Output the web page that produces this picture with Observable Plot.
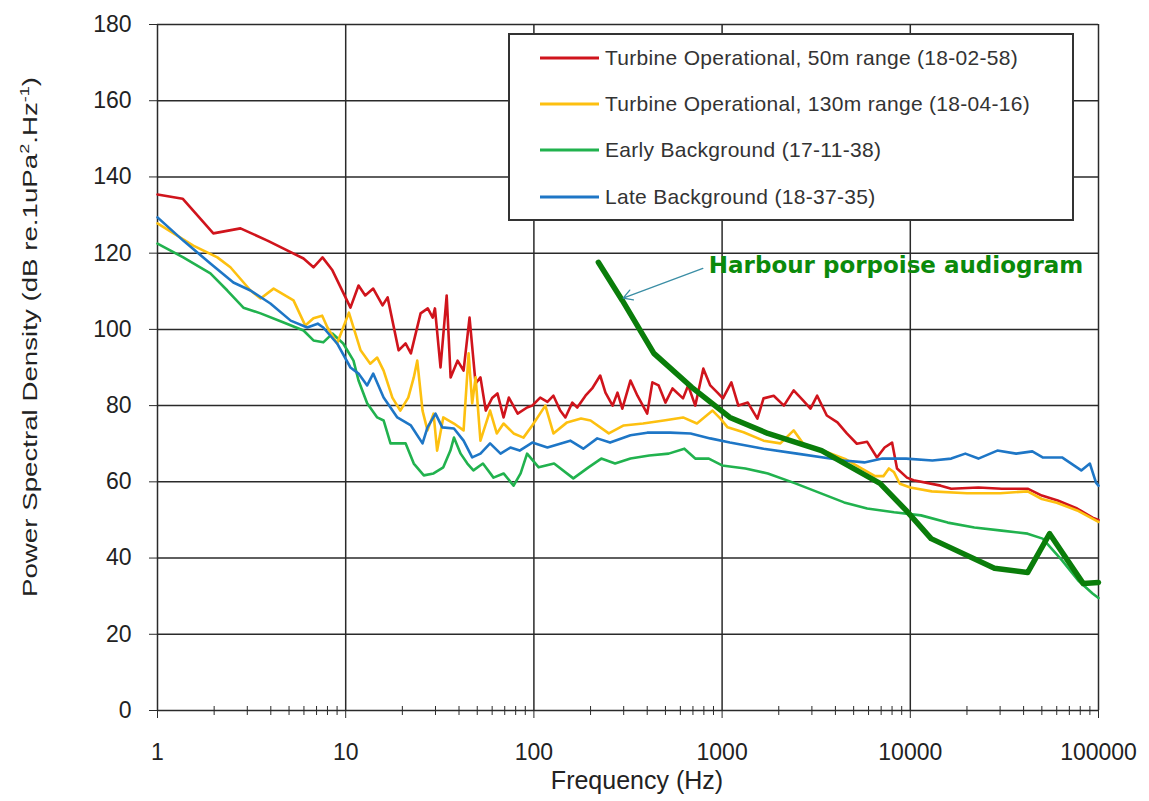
<!DOCTYPE html>
<html><head><meta charset="utf-8">
<script src="https://cdn.jsdelivr.net/npm/d3@7"></script>
<script src="https://cdn.jsdelivr.net/npm/@observablehq/plot@0.6"></script>
<style>
body{margin:0;background:#fff;}
#chart{width:1149px;height:801px;}
</style></head><body><div id="chart"></div>
<script>
// ---- axis ticks ----
const freqTicks = [1, 10, 100, 1000, 10000, 100000];
const minorTicks = [2,3,4,5,6,7,8,9, 20,30,40,50,60,70,80,90, 200,300,400,500,600,700,800,900,
  2000,3000,4000,5000,6000,7000,8000,9000, 20000,30000,40000,50000,60000,70000,80000,90000];
const dbTicks = [0, 20, 40, 60, 80, 100, 120, 140, 160, 180];

// ---- series (frequency Hz, dB) ----
const seriesNames = [
  "Turbine Operational, 50m range (18-02-58)",
  "Turbine Operational, 130m range (18-04-16)",
  "Early Background (17-11-38)",
  "Late Background (18-37-35)"
];
const seriesColors = ["#d0141c", "#fdc010", "#21b24e", "#1e76c6"];

const red50m = [[1,135.4],[1.36,134.3],[1.98,125.2],[2.76,126.5],[3.84,123.3],[5.97,118.6],[6.74,116.3],[7.53,118.9],[8.5,115.5],[10.6,105.7],[11.7,111.5],[12.7,108.9],[14,110.7],[15.7,106.3],[16.7,108.4],[19.1,94.5],[20.8,96.3],[22.2,93.7],[25,104.2],[27.3,105.5],[29,103.1],[29.8,105.5],[31.9,90],[34.4,108.9],[36.1,87.4],[39.3,91.8],[42.3,89.2],[45.5,103.1],[49,85.8],[52,87.4],[55.5,78.7],[60,82],[64,83.2],[69,76.9],[73.6,82.1],[82,77.9],[92,79.5],[98,80],[108,82.1],[118,81],[127,82.6],[138,78.7],[147,76.9],[160,80.8],[170,79.5],[188,82.6],[204,84.5],[225,87.9],[240,83.4],[262,80],[278,83.4],[295,79.2],[326,86.6],[355,82.6],[400,77.9],[426,86.1],[460,85.3],[500,80.8],[545,84.5],[620,81.9],[660,85.3],[720,80],[795,89.7],[865,85.3],[945,83.4],[1010,81.9],[1120,86.1],[1220,80],[1370,80.8],[1540,76.6],[1660,81.9],[1880,82.6],[2130,80],[2400,84],[2700,81.3],[2950,79.2],[3200,82.6],[3600,77.4],[4100,75.6],[4600,72.7],[5200,70],[5900,70.5],[6650,66.4],[7300,69],[8000,70.3],[8500,63.5],[9600,61.1],[10400,60.4],[14500,59],[16500,58.2],[23000,58.5],[30600,58.2],[42000,58.2],[50000,56.4],[60700,55.1],[77000,53],[93000,50.6],[100000,50]];

const yellow130m = [[1,127.8],[1.55,122],[2.08,118.9],[2.44,116.3],[3.12,110.2],[3.53,108.1],[4.14,110.7],[5.28,107.6],[6.1,101],[6.74,102.9],[7.5,103.6],[8,100.5],[9,96.3],[9.7,100.5],[10.4,104.4],[11,100.5],[12,94.5],[13.5,91],[14.7,92.6],[15.9,89.2],[17.7,82.1],[19.5,78.7],[21.5,82.1],[23,87.4],[24,91.8],[25.6,78.7],[27.2,73.5],[29.3,77.9],[30.6,68.2],[33,76.9],[37.6,75.3],[42.3,73.5],[45,93.7],[47,80.6],[49,87.4],[52,70.8],[58.5,78.7],[63.5,72.7],[69,75.3],[78,72.7],[88,71.6],[98,74.8],[115,80],[127,72.7],[150,75.6],[178,76.6],[200,76.1],[250,72.7],[300,74.8],[380,75.3],[490,76.1],[620,76.9],[735,75.3],[890,78.7],[980,76.6],[1070,74.3],[1300,73],[1660,70.8],[2040,70.1],[2400,73.5],[2700,70],[3500,68],[4500,66],[5500,63.5],[6500,61.5],[7200,61.5],[7700,63.5],[8200,62.5],[8800,59.5],[10000,58.5],[13000,57.5],[20000,57],[30000,57],[42000,57.5],[50000,55.5],[60000,54.5],[77000,52.5],[100000,49.5]];

const greenEarly = [[1,122.5],[1.37,118.9],[1.91,114.7],[2.35,110.2],[2.86,105.7],[3.53,104.2],[4.68,101.8],[5.97,99.7],[6.74,97.1],[7.6,96.6],[8.5,98.9],[9.7,96.3],[11,91.8],[11.7,86.6],[13,80.6],[14.7,76.9],[15.9,76.1],[17.3,70.1],[19,70.1],[20.8,70.1],[23,64.8],[26,61.7],[29.3,62.2],[33,63.8],[36,68.2],[37.6,71.6],[40.8,67.4],[44.3,64.8],[47.7,63],[53.6,64.8],[61,61.1],[69,62.2],[78,59],[85,62.2],[92,67.4],[106,63.8],[128,64.8],[162,60.9],[195,63.8],[228,66.1],[270,64.8],[326,66.1],[410,66.9],[520,67.4],[630,68.7],[720,66.1],[850,66.1],[1000,64.3],[1330,63.5],[1750,62.2],[2450,59.6],[3380,56.9],[4450,54.6],[5900,53],[8200,52],[11400,51.2],[15800,49.3],[21900,48],[30600,47.2],[42000,46.4],[50500,45.1],[64000,39.4],[78000,34.1],[93000,30.7],[100000,29.5]];

const blueLate = [[1,129.4],[1.37,123.3],[1.91,117.3],[2.53,112.3],[3.12,110.2],[3.98,106.8],[5.1,102.3],[6.25,100.5],[7.1,101.5],[7.6,100.5],[9,96.3],[10.6,90],[11.7,88.4],[13,85.3],[14,88.4],[15.9,82.1],[17.3,79.5],[18.8,76.9],[22.2,74.8],[25.6,70.1],[27.2,74.3],[30,77.9],[32.6,74.3],[37.6,74],[42.3,70.8],[47,66.4],[52,67.4],[58.5,70.1],[66.5,67.4],[75,69],[84,68.2],[98,70.3],[118,69],[156,70.8],[183,68.7],[217,71.4],[254,70.3],[326,72.2],[400,72.9],[530,72.9],[680,72.7],[865,71.4],[1100,70.3],[1660,68.7],[2500,67.4],[3750,66.1],[4450,65.6],[5700,65.1],[7100,66.1],[9500,66.1],[13100,65.6],[16500,66.1],[19600,67.4],[23000,66.1],[29000,68.2],[36500,67.4],[44500,68],[50500,66.4],[64000,66.4],[81000,63],[90000,64.8],[97000,59.8],[100000,59]];

const audiogram = [[220,117.6],[295,107.6],[434,93.7],[690,84.8],[1100,76.9],[1750,72.7],[3380,68.2],[6900,59.6],[9500,52.5],[12900,45.1],[28000,37.3],[42000,36.2],[55000,46.4],[83000,33.3],[100000,33.6]];

const annotationText = ["Harbour porpoise audiogram"];
const annotationAt = [{f: 850, db: 116.8}];
const arrowFromTo = [{f1: 790, db1: 116, f2: 298, db2: 108.2}];

const toRows = (arr, name) => arr.map(([f, db]) => ({series: name, f, db}));
const seriesData = [red50m, yellow130m, greenEarly, blueLate];
const drawOrder = [2, 0, 1, 3];

const plot = Plot.plot({
  width: 1149, height: 801,
  marginLeft: 157, marginRight: 51, marginTop: 24, marginBottom: 91,
  x: {type: "log", domain: [1, 100000]},
  y: {domain: [0, 180]},
  style: {fontFamily: "'Liberation Sans', Arial, sans-serif", fontSize: "23px", color: "#222", background: "#fff"},
  marks: [
    Plot.gridX(freqTicks, {stroke: "#2a2a2a", strokeOpacity: 1, strokeWidth: 1.5}),
    Plot.gridY(dbTicks, {stroke: "#2a2a2a", strokeOpacity: 1, strokeWidth: 1.5}),
    Plot.axisX(minorTicks, {tickSize: 9, dy: -4, tickFormat: () => "", label: null, stroke: "#2a2a2a"}),
    Plot.axisX(freqTicks, {tickSize: 8, tickPadding: 25, tickFormat: d => String(d), label: null, stroke: "#2a2a2a", fontSize: 23}),
    Plot.axisY(dbTicks, {tickSize: 8, tickPadding: 18, label: null, stroke: "#2a2a2a", fontSize: 23}),
    ...drawOrder.map(i => Plot.line(toRows(seriesData[i], seriesNames[i]), {x: "f", y: "db", stroke: seriesColors[i], strokeWidth: 2.6, curve: "linear"})),
    Plot.line(toRows(audiogram, "Harbour porpoise audiogram"), {x: "f", y: "db", stroke: "#0a7d0a", strokeWidth: 5.5}),
    Plot.arrow(arrowFromTo, {x1: "f1", y1: "db1", x2: "f2", y2: "db2", stroke: "#3b8ea5", strokeWidth: 1.3, headLength: 12}),
    Plot.text(annotationAt, {x: "f", y: "db", text: () => annotationText[0], textAnchor: "start", lineAnchor: "middle",
      fill: "#0b8a0b", fontSize: 23, fontWeight: "bold", fontFamily: "'DejaVu Sans', sans-serif"})
  ]
});

document.getElementById("chart").appendChild(plot);
const svg = d3.select(plot);

// y-axis title
const yt = svg.append("text")
  .attr("transform", "translate(37,337) rotate(-90)")
  .attr("text-anchor", "middle")
  .attr("font-family", "'Liberation Sans', Arial, sans-serif")
  .attr("font-size", 20).attr("fill", "#222")
  .attr("textLength", 520).attr("lengthAdjust", "spacingAndGlyphs");
yt.append("tspan").text("Power Spectral Density (dB re.1uPa");
yt.append("tspan").attr("dy", -8).attr("font-size", 13).text("2");
yt.append("tspan").attr("dy", 8).text(".Hz");
yt.append("tspan").attr("dy", -8).attr("font-size", 13).text("-1");
yt.append("tspan").attr("dy", 8).text(")");

// x-axis title
svg.append("text")
  .attr("x", 637).attr("y", 789)
  .attr("text-anchor", "middle")
  .attr("font-family", "'Liberation Sans', Arial, sans-serif")
  .attr("font-size", 25).attr("fill", "#222")
  .text("Frequency (Hz)");

// legend
const lg = svg.append("g").attr("text-anchor", "start");
lg.append("rect").attr("x", 509).attr("y", 34).attr("width", 564).attr("height", 186)
  .attr("fill", "#fff").attr("stroke", "#333").attr("stroke-width", 2);
const rowY = [58, 104, 150, 197];
seriesNames.forEach((name, i) => {
  lg.append("line").attr("x1", 540).attr("x2", 599).attr("y1", rowY[i]).attr("y2", rowY[i])
    .attr("stroke", seriesColors[i]).attr("stroke-width", 3);
  lg.append("text").attr("x", 605).attr("y", rowY[i]).attr("dy", "0.35em")
    .attr("text-anchor", "start")
    .attr("font-family", "'Liberation Sans', Arial, sans-serif")
    .attr("font-size", 21).attr("fill", "#333").attr("letter-spacing", 0.3)
    .text(name);
});
</script></body></html>
